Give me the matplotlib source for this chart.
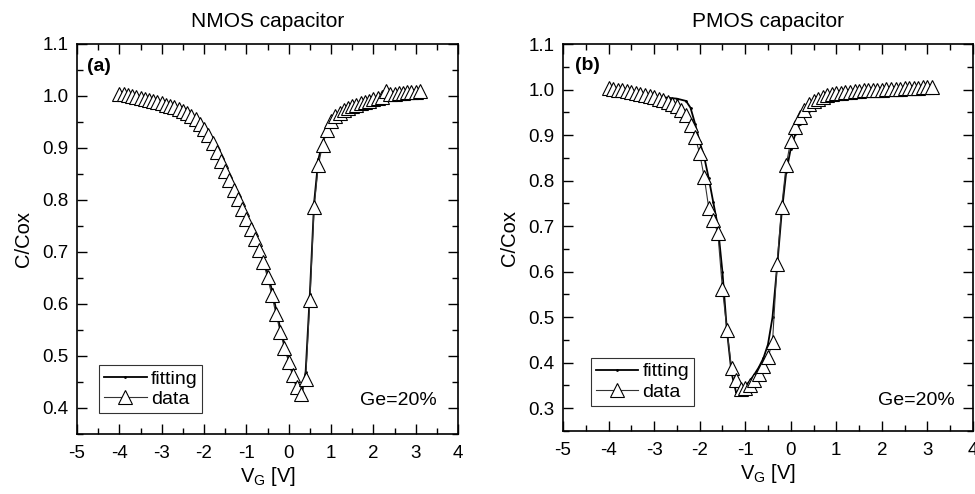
import matplotlib
matplotlib.use("Agg")
import matplotlib.pyplot as plt
from matplotlib.ticker import MultipleLocator

plt.rcParams['font.family'] = ['Liberation Sans', 'DejaVu Sans']

# NMOS capacitor, measured data
nmos_vg = [-4.0, -3.9, -3.8, -3.7, -3.6, -3.5, -3.4, -3.3, -3.2, -3.1,
           -3.0, -2.9, -2.8, -2.7, -2.6, -2.5, -2.4, -2.3, -2.2, -2.1,
           -2.0, -1.9, -1.8, -1.7, -1.6, -1.5, -1.4, -1.3, -1.2, -1.1,
           -1.0, -0.9, -0.8, -0.7, -0.6, -0.5, -0.4, -0.3, -0.2, -0.1,
           0.0, 0.1, 0.2, 0.3, 0.4, 0.5, 0.6, 0.7, 0.8, 0.9,
           1.0, 1.1, 1.2, 1.3, 1.4, 1.5, 1.6, 1.7, 1.8, 1.9,
           2.0, 2.1, 2.2, 2.3, 2.4, 2.5, 2.6, 2.7, 2.8, 2.9,
           3.0, 3.1]
nmos_data = [1.004, 1.003, 1.001, 1.000, 0.998, 0.996, 0.994, 0.992, 0.990, 0.988,
             0.986, 0.983, 0.981, 0.978, 0.975, 0.971, 0.967, 0.962, 0.955, 0.947,
             0.937, 0.925, 0.910, 0.893, 0.874, 0.856, 0.838, 0.820, 0.802, 0.783,
             0.764, 0.745, 0.724, 0.703, 0.680, 0.651, 0.618, 0.580, 0.547, 0.515,
             0.489, 0.463, 0.440, 0.426, 0.455, 0.607, 0.786, 0.867, 0.906, 0.935,
             0.952, 0.962, 0.968, 0.973, 0.977, 0.980, 0.983, 0.986, 0.989, 0.991,
             0.994, 0.996, 0.998, 1.010, 1.003, 1.004, 1.005, 1.006, 1.007, 1.008,
             1.008, 1.009]

# NMOS capacitor, fitting
nmos_fit_vg = [-4.0, -3.6, -3.2, -2.8, -2.4, -2.2, -2.0, -1.8, -1.6, -1.4,
               -1.2, -1.0, -0.8, -0.6, -0.4, -0.2, 0.0, 0.1, 0.2, 0.3,
               0.4, 0.5, 0.6, 0.7, 0.8, 0.9, 1.0, 1.4, 1.8, 2.2,
               2.6, 3.0]
nmos_fit = [0.998, 0.993, 0.987, 0.979, 0.968, 0.958, 0.942, 0.917, 0.882, 0.846,
            0.810, 0.772, 0.733, 0.690, 0.628, 0.553, 0.492, 0.462, 0.437, 0.424,
            0.470, 0.620, 0.795, 0.878, 0.910, 0.932, 0.948, 0.972, 0.984, 0.991,
            0.996, 0.999]

# PMOS capacitor, measured data
pmos_vg = [-4.0, -3.9, -3.8, -3.7, -3.6, -3.5, -3.4, -3.3, -3.2, -3.1,
           -3.0, -2.9, -2.8, -2.7, -2.6, -2.5, -2.4, -2.3, -2.2, -2.1,
           -2.0, -1.9, -1.8, -1.7, -1.6, -1.5, -1.4, -1.3, -1.2, -1.1,
           -1.0, -0.9, -0.8, -0.7, -0.6, -0.5, -0.4, -0.3, -0.2, -0.1,
           0.0, 0.1, 0.2, 0.3, 0.4, 0.5, 0.6, 0.7, 0.8, 0.9,
           1.0, 1.1, 1.2, 1.3, 1.4, 1.5, 1.6, 1.7, 1.8, 1.9,
           2.0, 2.1, 2.2, 2.3, 2.4, 2.5, 2.6, 2.7, 2.8, 2.9,
           3.0, 3.1]
pmos_data = [1.004, 1.002, 1.000, 0.998, 0.996, 0.994, 0.992, 0.990, 0.988, 0.985,
             0.983, 0.980, 0.977, 0.973, 0.969, 0.964, 0.955, 0.943, 0.922, 0.896,
             0.860, 0.808, 0.740, 0.713, 0.685, 0.563, 0.472, 0.388, 0.363, 0.342,
             0.345, 0.352, 0.362, 0.375, 0.393, 0.412, 0.445, 0.617, 0.742, 0.834,
             0.888, 0.918, 0.940, 0.956, 0.968, 0.975, 0.980, 0.984, 0.987, 0.990,
             0.992, 0.993, 0.994, 0.995, 0.996, 0.997, 0.998, 0.999, 0.999, 1.000,
             1.000, 1.001, 1.001, 1.002, 1.002, 1.003, 1.003, 1.004, 1.004, 1.005,
             1.005, 1.005]

# PMOS capacitor, fitting
pmos_fit_vg = [-4.0, -3.6, -3.2, -2.8, -2.5, -2.3, -2.2, -2.1, -2.0, -1.9,
               -1.8, -1.7, -1.6, -1.5, -1.4, -1.3, -1.2, -1.1, -1.0, -0.9,
               -0.8, -0.7, -0.6, -0.5, -0.4, -0.3, -0.2, -0.1, 0.0, 0.1,
               0.2, 0.3, 0.4, 0.6, 0.8, 1.0, 1.5, 2.0, 2.5, 3.0]
pmos_fit = [0.993, 0.990, 0.987, 0.983, 0.980, 0.975, 0.960, 0.925, 0.885, 0.852,
            0.805, 0.752, 0.700, 0.600, 0.470, 0.378, 0.335, 0.335, 0.348, 0.360,
            0.374, 0.390, 0.410, 0.440, 0.500, 0.610, 0.728, 0.818, 0.870, 0.902,
            0.925, 0.941, 0.953, 0.967, 0.976, 0.983, 0.990, 0.995, 0.998, 1.000]

fig = plt.figure(figsize=(9.75, 4.94), dpi=100)
ax1 = fig.add_axes([0.079, 0.1215, 0.3908, 0.7895])
ax2 = fig.add_axes([0.5774, 0.1275, 0.4205, 0.7834])

panels = [
    (ax1, nmos_fit_vg, nmos_fit, nmos_vg, nmos_data, "NMOS capacitor", "(a)", (0.35, 1.1),
     (0.058, 0.054), (0.945, 0.087), (0.026, 0.941)),
    (ax2, pmos_fit_vg, pmos_fit, pmos_vg, pmos_data, "PMOS capacitor", "(b)", (0.25, 1.1),
     (0.068, 0.065), (0.956, 0.08), (0.029, 0.945)),
]

for ax, fx, fy, dx, dy, title, tag, ylim, leg_xy, ge_xy, tag_xy in panels:
    ax.plot(fx, fy, '-', color='black', lw=1.3, marker='.', ms=2, label='fitting')
    ax.plot(dx, dy, '-', color='#333333', lw=0.8, marker='^', ms=10,
            mfc='white', mec='black', mew=0.8, label='data')
    ax.set_xlim(-5, 4)
    ax.set_ylim(*ylim)
    ax.xaxis.set_minor_locator(MultipleLocator(0.5))
    ax.yaxis.set_minor_locator(MultipleLocator(0.05))
    ax.tick_params(which='both', direction='in', top=True, right=True, labelsize=13.5)
    ax.tick_params(which='major', length=7, width=1, pad=6)
    ax.tick_params(axis='x', which='major', pad=8)
    ax.tick_params(which='minor', length=4, width=1)
    ax.set_yticks([t / 10 for t in range(int(round(ylim[0] * 10 + 0.5)), 12)])
    ax.set_xticks(range(-5, 5))
    ax.set_xticklabels([str(t) for t in range(-5, 5)])
    ax.set_yticklabels([f"{t:.1f}" for t in ax.get_yticks()])
    for s in ax.spines.values():
        s.set_linewidth(1.2)
    ax.set_title(title, fontsize=15, pad=12)
    ax.set_xlabel(r"V$_\mathregular{G}$ [V]", fontsize=14.5, labelpad=2)
    ax.set_ylabel("C/Cox", fontsize=14.5, labelpad=7)
    ax.text(tag_xy[0], tag_xy[1], tag, transform=ax.transAxes, fontsize=14,
            fontweight='bold', va='center')
    ax.text(ge_xy[0], ge_xy[1], "Ge=20%", transform=ax.transAxes, fontsize=14,
            ha='right', va='center')
    leg = ax.legend(loc='lower left', bbox_to_anchor=leg_xy, fontsize=14, frameon=True,
                    fancybox=False, edgecolor='black', handlelength=2.2, handletextpad=0.2,
                    borderpad=0.25, labelspacing=0.15, borderaxespad=0)
    leg.get_frame().set_linewidth(0.8)

fig.savefig("out.png", dpi=100)
